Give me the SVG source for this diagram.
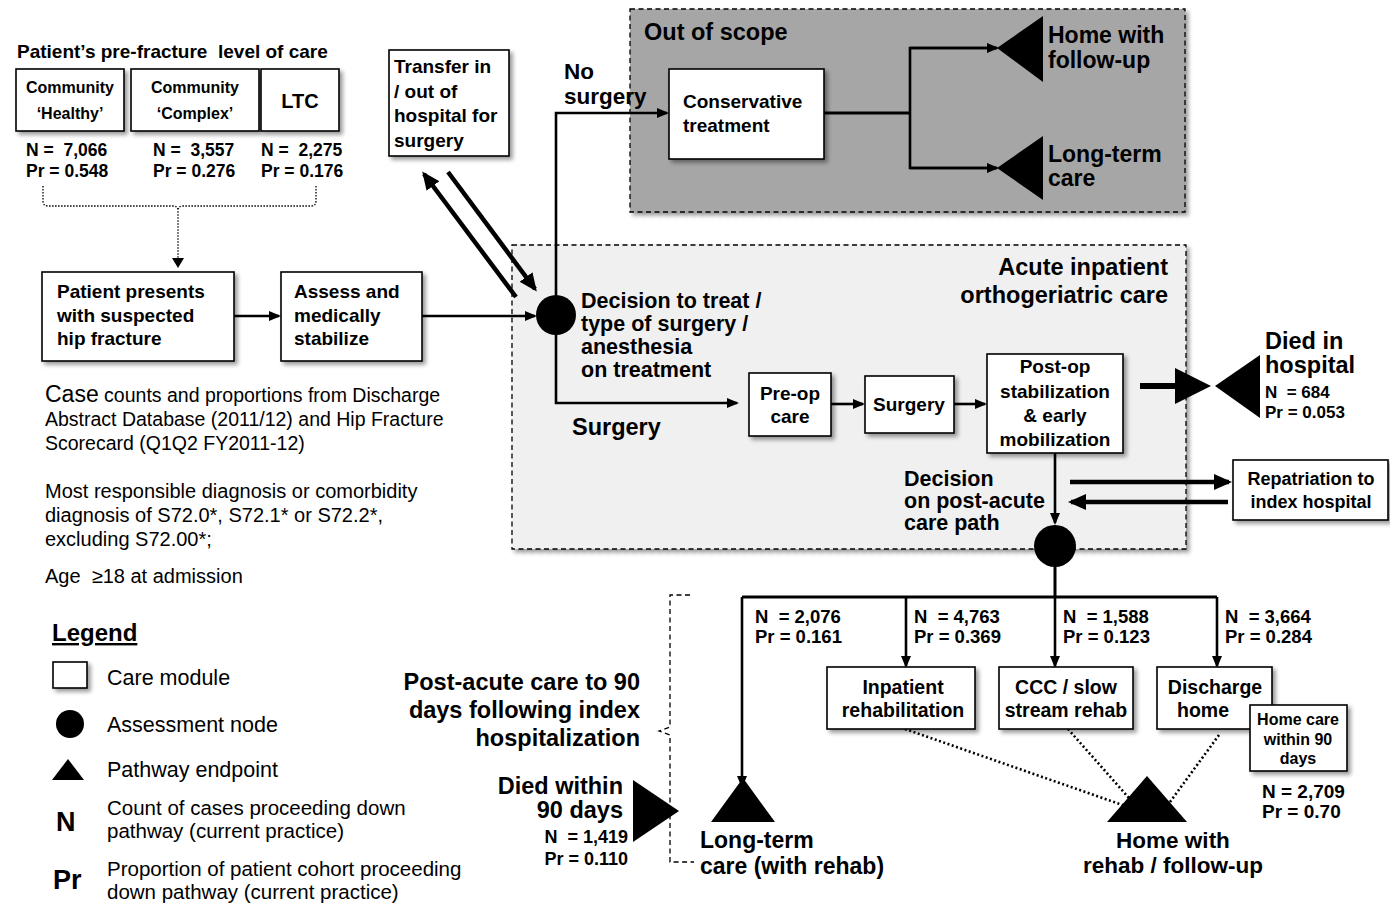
<svg xmlns="http://www.w3.org/2000/svg" width="1390" height="904" viewBox="0 0 1390 904">
<defs>
<style>
.b{font-family:"Liberation Sans",Arial,sans-serif;font-weight:bold;fill:#000}
.r{font-family:"Liberation Sans",Arial,sans-serif;fill:#000}
.box{fill:#fff;stroke:#000;stroke-width:1.6;filter:url(#sh)}
.ln{fill:none;stroke:#000;stroke-width:2.6}
.thk{fill:none;stroke:#000;stroke-width:4.5}
.dot{fill:none;stroke:#000;stroke-width:2.6;stroke-dasharray:2 2.5}
.fdot{fill:none;stroke:#000;stroke-width:1.3;stroke-dasharray:1.5 1.5}
.dash{fill:none;stroke:#000;stroke-width:1.3;stroke-dasharray:5 3.5}
.m{text-anchor:middle}
.e{text-anchor:end}
</style>
<filter id="sh" x="-20%" y="-20%" width="150%" height="150%"><feDropShadow dx="3" dy="3" stdDeviation="2" flood-color="#000" flood-opacity="0.4"/></filter>
<marker id="ah" viewBox="0 0 12 10" refX="10" refY="5" markerWidth="12" markerHeight="10" markerUnits="userSpaceOnUse" orient="auto"><path d="M0,0 L12,5 L0,10 z"/></marker>
<marker id="ahL" viewBox="0 0 18 16" refX="15" refY="8" markerWidth="18" markerHeight="16" markerUnits="userSpaceOnUse" orient="auto"><path d="M0,0 L18,8 L0,16 z"/></marker>
<marker id="ahS" viewBox="0 0 10 9" refX="9" refY="4.5" markerWidth="10" markerHeight="9" markerUnits="userSpaceOnUse" orient="auto"><path d="M0,0 L10,4.5 L0,9 z"/></marker>
</defs>
<rect width="1390" height="904" fill="#fff"/>

<!-- regions -->
<g id="out-of-scope">
<rect x="630" y="9" width="555" height="203" fill="#a6a6a6" stroke="#000" stroke-width="1.3" stroke-dasharray="5 3.5" filter="url(#sh)"/>
<text class="b" x="644" y="40" font-size="23.5">Out of scope</text>
</g>
<g id="acute-inpatient">
<rect x="512" y="245" width="674" height="304" fill="#f0f0f0" stroke="#000" stroke-width="1.3" stroke-dasharray="5 3.5" filter="url(#sh)"/>
<text class="b e" x="1168" y="275" font-size="23.5">Acute inpatient</text>
<text class="b e" x="1168" y="303" font-size="23.5">orthogeriatric care</text>
</g>

<!-- connectors -->
<g id="connectors">
<path class="fdot" d="M43,186 V201 Q43,206 48,206 H173 Q178,206 178,211 M316,186 V201 Q316,206 311,206 H183 Q178,206 178,211 V258"/>
<path d="M172,258 L184,258 L178,268 z"/>
<line class="ln" x1="234" y1="316" x2="279" y2="316" marker-end="url(#ah)"/>
<line class="ln" x1="422" y1="316" x2="535" y2="316" marker-end="url(#ah)"/>
<line class="thk" x1="516" y1="297" x2="424" y2="174" marker-end="url(#ahL)"/>
<line class="thk" x1="448" y1="172" x2="535" y2="289" marker-end="url(#ahL)"/>
<path class="ln" d="M556,296 V113 H667" marker-end="url(#ah)"/>
<path class="ln" d="M556,334 V403 H737" marker-end="url(#ah)"/>
<line x1="824" y1="113" x2="910" y2="113" stroke="#000" stroke-width="3"/>
<path class="ln" d="M997,48 H910 V168 H997"/>
<line class="ln" x1="910" y1="48" x2="997" y2="48" marker-end="url(#ah)"/>
<line class="ln" x1="910" y1="168" x2="997" y2="168" marker-end="url(#ah)"/>
<line class="ln" x1="831" y1="404" x2="863" y2="404" marker-end="url(#ah)"/>
<line class="ln" x1="954" y1="404" x2="985" y2="404" marker-end="url(#ah)"/>
<line x1="1140" y1="386" x2="1180" y2="386" stroke="#000" stroke-width="6"/>
<path d="M1175,368 L1211,386 L1175,404 z"/>
<line class="ln" x1="1055" y1="453" x2="1055" y2="523" marker-end="url(#ah)"/>
<line class="thk" x1="1070" y1="482" x2="1229" y2="482" marker-end="url(#ahL)"/>
<line class="thk" x1="1228" y1="502" x2="1071" y2="502" marker-end="url(#ahL)"/>
<line x1="1055" y1="567" x2="1055" y2="598" stroke="#000" stroke-width="3"/>
<line x1="742" y1="597" x2="1217" y2="597" stroke="#000" stroke-width="3"/>
<line class="ln" x1="742" y1="597" x2="742" y2="786" marker-end="url(#ah)"/>
<line class="ln" x1="906" y1="597" x2="906" y2="666" marker-end="url(#ah)"/>
<line class="ln" x1="1055" y1="597" x2="1055" y2="666" marker-end="url(#ah)"/>
<line class="ln" x1="1217" y1="597" x2="1217" y2="666" marker-end="url(#ah)"/>
<line class="dot" x1="905" y1="729" x2="1134" y2="809" marker-end="url(#ahS)"/>
<line class="dot" x1="1068" y1="729" x2="1136" y2="806" marker-end="url(#ahS)"/>
<line class="dot" x1="1219" y1="735" x2="1170" y2="802"/>
<path class="dash" d="M690,595 H670 V727 L659,731 L670,735 V862 H694"/>
</g>

<!-- pre-fracture level of care -->
<g id="title-prefracture">
<text class="b" x="17" y="58" font-size="19" xml:space="preserve">Patient’s pre-fracture  level of care</text>
</g>
<g id="community-healthy">
<rect class="box" x="16" y="69" width="108" height="62"/>
<text class="b m" x="70" y="93" font-size="16">Community</text>
<text class="b m" x="70" y="119" font-size="16">‘Healthy’</text>
<text class="b" x="26" y="156" font-size="17.5" xml:space="preserve">N =  7,066</text>
<text class="b" x="26" y="177" font-size="17.5">Pr = 0.548</text>
</g>
<g id="community-complex">
<rect class="box" x="131" y="69" width="128" height="62"/>
<text class="b m" x="195" y="93" font-size="16">Community</text>
<text class="b m" x="195" y="119" font-size="16">‘Complex’</text>
<text class="b" x="153" y="156" font-size="17.5" xml:space="preserve">N =  3,557</text>
<text class="b" x="153" y="177" font-size="17.5">Pr = 0.276</text>
</g>
<g id="ltc">
<rect class="box" x="261" y="69" width="78" height="62"/>
<text class="b m" x="300" y="108" font-size="20">LTC</text>
<text class="b" x="261" y="156" font-size="17.5" xml:space="preserve">N =  2,275</text>
<text class="b" x="261" y="177" font-size="17.5">Pr = 0.176</text>
</g>

<g id="patient-presents">
<rect class="box" x="42" y="272" width="192" height="89"/>
<text class="b" x="57" y="298" font-size="19">Patient presents</text>
<text class="b" x="57" y="322" font-size="19">with suspected</text>
<text class="b" x="57" y="345" font-size="19">hip fracture</text>
</g>
<g id="assess">
<rect class="box" x="281" y="272" width="141" height="89"/>
<text class="b" x="294" y="298" font-size="19">Assess and</text>
<text class="b" x="294" y="322" font-size="19">medically</text>
<text class="b" x="294" y="345" font-size="19">stabilize</text>
</g>
<g id="transfer">
<rect class="box" x="389" y="50" width="120" height="106"/>
<text class="b" x="394" y="73" font-size="19">Transfer in</text>
<text class="b" x="394" y="98" font-size="19">/ out of</text>
<text class="b" x="394" y="122" font-size="19">hospital for</text>
<text class="b" x="394" y="147" font-size="19">surgery</text>
</g>

<g id="decision-treat">
<circle cx="556" cy="315" r="20"/>
<text class="b" x="581" y="308" font-size="21.5">Decision to treat /</text>
<text class="b" x="581" y="331" font-size="21.5">type of surgery /</text>
<text class="b" x="581" y="354" font-size="21.5">anesthesia</text>
<text class="b" x="581" y="377" font-size="21.5">on treatment</text>
</g>
<g id="label-no-surgery">
<text class="b" x="564" y="79" font-size="22.5">No</text>
<text class="b" x="564" y="104" font-size="22.5">surgery</text>
</g>
<g id="label-surgery">
<text class="b" x="572" y="435" font-size="23.5">Surgery</text>
</g>

<g id="conservative">
<rect class="box" x="669" y="69" width="155" height="90"/>
<text class="b" x="683" y="108" font-size="19">Conservative</text>
<text class="b" x="683" y="132" font-size="19">treatment</text>
</g>
<g id="home-followup">
<polygon points="997,48 1043,16 1043,82"/>
<text class="b" x="1048" y="43" font-size="23">Home with</text>
<text class="b" x="1048" y="68" font-size="23">follow-up</text>
</g>
<g id="ltc-oos">
<polygon points="997,168 1043,136 1043,200"/>
<text class="b" x="1048" y="162" font-size="23">Long-term</text>
<text class="b" x="1048" y="186" font-size="23">care</text>
</g>

<g id="preop">
<rect class="box" x="749" y="373" width="82" height="63"/>
<text class="b m" x="790" y="400" font-size="19">Pre-op</text>
<text class="b m" x="790" y="423" font-size="19">care</text>
</g>
<g id="surgery">
<rect class="box" x="865" y="376" width="89" height="57"/>
<text class="b m" x="909" y="411" font-size="19">Surgery</text>
</g>
<g id="postop">
<rect class="box" x="987" y="354" width="136" height="99"/>
<text class="b m" x="1055" y="373" font-size="19">Post-op</text>
<text class="b m" x="1055" y="398" font-size="19">stabilization</text>
<text class="b m" x="1055" y="422" font-size="19">&amp; early</text>
<text class="b m" x="1055" y="446" font-size="19">mobilization</text>
</g>
<g id="died-hospital">
<polygon points="1215,386 1260,355 1260,418"/>
<text class="b" x="1265" y="349" font-size="23.5">Died in</text>
<text class="b" x="1265" y="373" font-size="23.5">hospital</text>
<text class="b" x="1265" y="398" font-size="17" xml:space="preserve">N  = 684</text>
<text class="b" x="1265" y="418" font-size="17">Pr = 0.053</text>
</g>
<g id="repatriation">
<rect class="box" x="1233" y="460" width="155" height="60"/>
<text class="b m" x="1311" y="485" font-size="18">Repatriation to</text>
<text class="b m" x="1311" y="508" font-size="18">index hospital</text>
</g>
<g id="decision-postacute">
<circle cx="1055" cy="546" r="21"/>
<text class="b" x="904" y="486" font-size="21.5">Decision</text>
<text class="b" x="904" y="508" font-size="21.5">on post-acute</text>
<text class="b" x="904" y="530" font-size="21.5">care path</text>
</g>

<g id="branch-labels">
<text class="b" x="755" y="623" font-size="18.5" xml:space="preserve">N  = 2,076</text>
<text class="b" x="755" y="643" font-size="18.5">Pr = 0.161</text>
<text class="b" x="914" y="623" font-size="18.5" xml:space="preserve">N  = 4,763</text>
<text class="b" x="914" y="643" font-size="18.5">Pr = 0.369</text>
<text class="b" x="1063" y="623" font-size="18.5" xml:space="preserve">N  = 1,588</text>
<text class="b" x="1063" y="643" font-size="18.5">Pr = 0.123</text>
<text class="b" x="1225" y="623" font-size="18.5" xml:space="preserve">N  = 3,664</text>
<text class="b" x="1225" y="643" font-size="18.5">Pr = 0.284</text>
</g>
<g id="inpatient-rehab">
<rect class="box" x="827" y="667" width="148" height="62"/>
<text class="b m" x="903" y="694" font-size="19.5">Inpatient</text>
<text class="b m" x="903" y="717" font-size="19.5">rehabilitation</text>
</g>
<g id="ccc">
<rect class="box" x="999" y="667" width="134" height="62"/>
<text class="b m" x="1066" y="694" font-size="19.5">CCC / slow</text>
<text class="b m" x="1066" y="717" font-size="19.5">stream rehab</text>
</g>
<g id="discharge-home">
<rect class="box" x="1157" y="667" width="115" height="62"/>
<text class="b m" x="1215" y="694" font-size="19.5">Discharge</text>
<text class="b m" x="1203" y="717" font-size="19.5">home</text>
</g>
<g id="home-care">
<rect class="box" x="1250" y="705" width="97" height="66"/>
<text class="b m" x="1298" y="725" font-size="16">Home care</text>
<text class="b m" x="1298" y="745" font-size="16">within 90</text>
<text class="b m" x="1298" y="764" font-size="16">days</text>
<text class="b" x="1262" y="798" font-size="19">N = 2,709</text>
<text class="b" x="1262" y="818" font-size="19">Pr = 0.70</text>
</g>
<g id="home-rehab">
<polygon points="1147,776 1107,822 1187,822"/>
<text class="b m" x="1173" y="848" font-size="22.5">Home with</text>
<text class="b m" x="1173" y="873" font-size="22.5">rehab / follow-up</text>
</g>
<g id="ltc-rehab">
<polygon points="743,778 711,822 775,822"/>
<text class="b" x="700" y="848" font-size="23">Long-term</text>
<text class="b" x="700" y="874" font-size="23">care (with rehab)</text>
</g>
<g id="died-90">
<polygon points="633,780 633,842 679,811"/>
<text class="b e" x="623" y="794" font-size="23.5">Died within</text>
<text class="b e" x="623" y="818" font-size="23.5">90 days</text>
<text class="b e" x="628" y="843" font-size="18" xml:space="preserve">N  = 1,419</text>
<text class="b e" x="628" y="865" font-size="18">Pr = 0.110</text>
</g>
<g id="post-acute-label">
<text class="b e" x="640" y="690" font-size="23.5">Post-acute care to 90</text>
<text class="b e" x="640" y="718" font-size="23.5">days following index</text>
<text class="b e" x="640" y="746" font-size="23.5">hospitalization</text>
</g>

<g id="notes">
<text class="r" x="45" y="402" font-size="19.5"><tspan font-size="23">Case</tspan> counts and proportions from Discharge</text>
<text class="r" x="45" y="426" font-size="19.5">Abstract Database (2011/12) and Hip Fracture</text>
<text class="r" x="45" y="450" font-size="19.5">Scorecard (Q1Q2 FY2011-12)</text>
<text class="r" x="45" y="498" font-size="20">Most responsible diagnosis or comorbidity</text>
<text class="r" x="45" y="522" font-size="20">diagnosis of S72.0*, S72.1* or S72.2*,</text>
<text class="r" x="45" y="546" font-size="20">excluding S72.00*;</text>
<text class="r" x="45" y="583" font-size="20" xml:space="preserve">Age  ≥18 at admission</text>
</g>

<g id="legend">
<text class="b" x="52" y="641" font-size="24" text-decoration="underline">Legend</text>
<rect class="box" x="53" y="662" width="34" height="26"/>
<text class="r" x="107" y="685" font-size="21.5">Care module</text>
<circle cx="70" cy="724" r="14"/>
<text class="r" x="107" y="732" font-size="21.5">Assessment node</text>
<polygon points="68,759 52,780 84,780"/>
<text class="r" x="107" y="777" font-size="21.5">Pathway endpoint</text>
<text class="b" x="56" y="831" font-size="27">N</text>
<text class="r" x="107" y="815" font-size="20.5">Count of cases proceeding down</text>
<text class="r" x="107" y="838" font-size="20.5">pathway (current practice)</text>
<text class="b" x="53" y="889" font-size="27">Pr</text>
<text class="r" x="107" y="876" font-size="20.5">Proportion of patient cohort proceeding</text>
<text class="r" x="107" y="899" font-size="20.5">down pathway (current practice)</text>
</g>
</svg>
